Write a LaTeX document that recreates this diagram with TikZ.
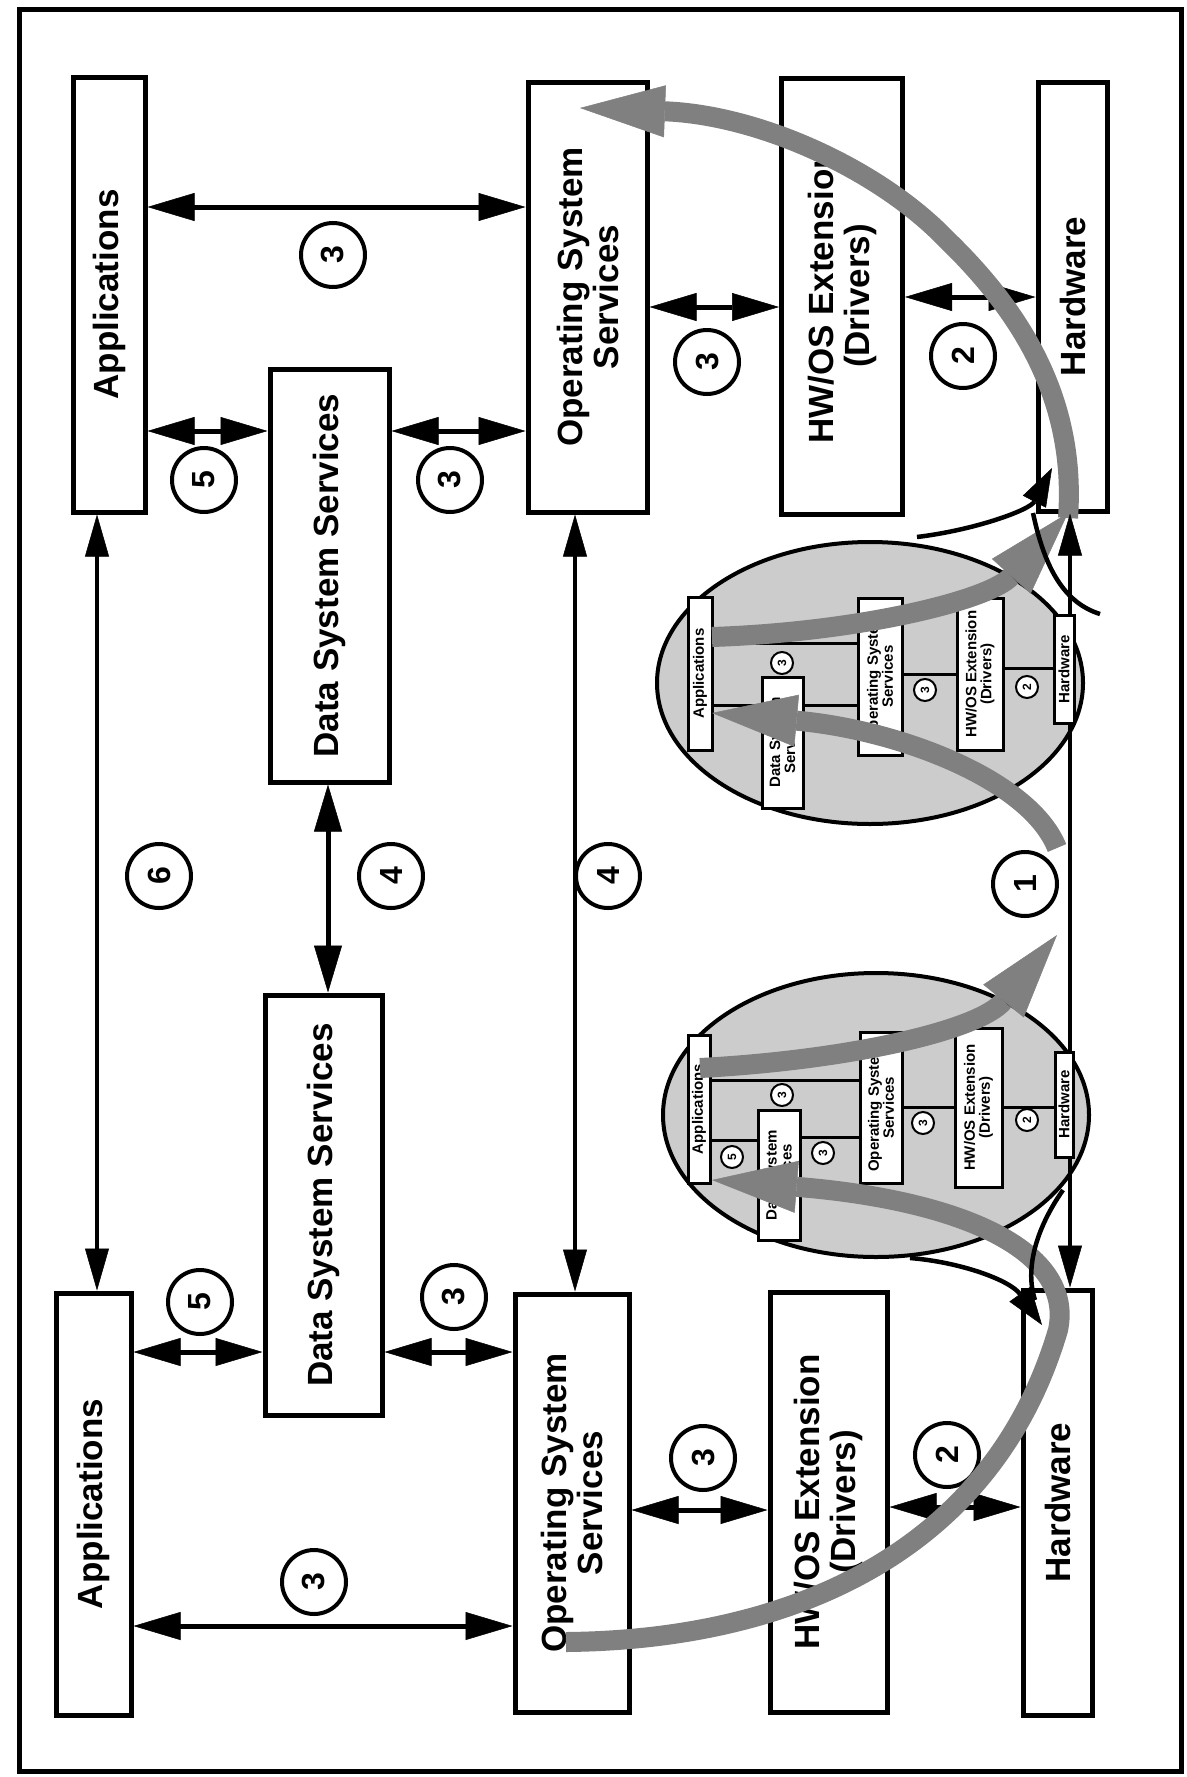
\documentclass[tikz,border=0pt]{standalone}
\usepackage{fontspec}
\setmainfont{Liberation Sans}
\usetikzlibrary{arrows.meta}
\begin{document}
\begin{tikzpicture}[x=1pt,y=-1pt,
  box/.style={draw,line width=5pt,fill=white,inner sep=0pt},
  lbl/.style={rotate=90,align=center,inner sep=0pt,font=\fontsize{35}{36}\selectfont\bfseries},
  num/.style={circle,draw,line width=4pt,minimum size=64pt,inner sep=0pt,fill=white,rotate=90,font=\fontsize{32}{32}\selectfont\bfseries},
  conn/.style={line width=5pt,{Triangle[length=47pt,width=28pt,line width=0.5pt]}-{Triangle[length=47pt,width=28pt,line width=0.5pt]}},
  vconn/.style={line width=3.5pt,{Triangle[length=42pt,width=24pt,line width=0.5pt]}-{Triangle[length=42pt,width=24pt,line width=0.5pt]}},
  mbox/.style={draw,line width=3pt,fill=white,inner sep=0pt},
  mlbl/.style={rotate=90,align=center,inner sep=0pt,font=\fontsize{15}{15}\selectfont\bfseries},
  mnum/.style={circle,draw,line width=2pt,minimum size=22pt,inner sep=0pt,fill=white,rotate=90,font=\fontsize{12}{12}\selectfont\bfseries},
  mline/.style={line width=3pt},
  zone/.style={draw,line width=4pt,fill=black!20},
  flow/.style={line width=20pt,draw=black!50,-{Triangle[length=85pt,width=52pt,line width=0.5pt]}},
  callout/.style={line width=4.5pt,-{Triangle[length=38pt,width=26pt,line width=0.5pt]}},
  curve/.style={line width=4.5pt},
]
\useasboundingbox (0,0) rectangle (1186,1777);
\draw[line width=5pt] (19,10) rectangle (1181,1771);

% ---------- top system ----------
\node[box,minimum width=72pt,minimum height=435pt] (appT) at (109,294.5) {};
\node[lbl] (appTl) at (appT) {Applications};
\node[box,minimum width=119pt,minimum height=430pt] (osT) at (587.5,297) {};
\node[lbl] (osTl) at (osT) {Operating System\\Services};
\node[box,minimum width=121pt,minimum height=436pt] (hwosT) at (842,296) {};
\node[lbl] (hwosTl) at (hwosT) {HW/OS Extension\\(Drivers)};
\node[box,minimum width=69pt,minimum height=429pt] (hwT) at (1072.5,296.5) {};
\node[lbl] (hwTl) at (hwT) {Hardware};
\node[box,minimum width=119pt,minimum height=413pt] (dssT) at (329.5,575.5) {};
\node[lbl] (dssTl) at (dssT) {Data System Services};

% ---------- bottom system ----------
\node[box,minimum width=75pt,minimum height=422pt] (appB) at (93.5,1504) {};
\node[lbl] (appBl) at (appB) {Applications};
\node[box,minimum width=117pt,minimum height=420pt] (dssB) at (323.5,1205) {};
\node[lbl] (dssBl) at (dssB) {Data System Services};
\node[box,minimum width=114pt,minimum height=418pt] (osB) at (572,1503) {};
\node[lbl] (osBl) at (osB) {Operating System\\Services};
\node[box,minimum width=117pt,minimum height=420pt] (hwosB) at (828.5,1502) {};
\node[lbl] (hwosBl) at (hwosB) {HW/OS Extension\\(Drivers)};
\node[box,minimum width=69pt,minimum height=425pt] (hwB) at (1057.5,1502.5) {};
\node[lbl] (hwBl) at (hwB) {Hardware};

% ---------- connectors ----------
\draw[conn] (appT.east |- 0,207) -- (osT.west |- 0,207);
\draw[conn] (appT.east |- 0,431) -- (dssT.west |- 0,431);
\draw[conn] (dssT.east |- 0,431) -- (osT.west |- 0,431);
\draw[conn] (osT.east |- 0,307) -- (hwosT.west |- 0,307);
\draw[conn] (hwosT.east |- 0,297) -- (hwT.west |- 0,297);

\draw[conn] (appB.east |- 0,1626) -- (osB.west |- 0,1626);
\draw[conn] (appB.east |- 0,1352) -- (dssB.west |- 0,1352);
\draw[conn] (dssB.east |- 0,1352) -- (osB.west |- 0,1352);
\draw[conn] (osB.east |- 0,1510) -- (hwosB.west |- 0,1510);
\draw[conn] (hwosB.east |- 0,1507) -- (hwB.west |- 0,1507);

\draw[vconn] (appT.south -| 97,0) -- (appB.north -| 97,0);
\draw[conn] (dssT.south -| 328,0) -- (dssB.north -| 328,0);
\draw[vconn] (osT.south -| 575,0) -- (osB.north -| 575,0);

\node[num] (n1) at (333,255) {3};
\node[num] (n2) at (204,480) {5};
\node[num] (n3) at (450,480) {3};
\node[num] (n4) at (707,362) {3};
\node[num] (n5) at (963,356) {2};
\node[num] (n6) at (314,1582) {3};
\node[num] (n7) at (200,1302) {5};
\node[num] (n8) at (454,1297) {3};
\node[num] (n9) at (703,1458) {3};
\node[num] (n10) at (947,1455) {2};
\node[num] (n11) at (159,876) {6};
\node[num] (n12) at (391,876) {4};
\node[num] (n13) at (608,876) {4};
\node[num] (n14) at (1025,884) {1};

% ---------- magnified views ----------
\draw[zone] (870,683) ellipse [x radius=213, y radius=141];
\draw[zone] (876,1115) ellipse [x radius=213, y radius=142];

% top view
\node[mbox,minimum width=24pt,minimum height=153pt] (tApp) at (700,673.5) {};
\node[mlbl] at (tApp) {Applications};
\node[mbox,minimum width=41pt,minimum height=131pt] (tDss) at (782.5,742.5) {};
\node[mlbl] at (tDss) {Data System\\Services};
\node[mbox,minimum width=44pt,minimum height=157pt] (tOs) at (880,676.5) {};
\node[mlbl] at (tOs) {Operating System\\Services};
\node[mbox,minimum width=46pt,minimum height=152pt] (tHwos) at (980,674) {};
\node[mlbl] at (tHwos) {HW/OS Extension\\(Drivers)};
\draw[mline] (tApp.east |- 0,643) -- (tOs.west |- 0,643);
\draw[mline] (tApp.east |- 0,705) -- (tDss.west |- 0,705);
\draw[mline] (tDss.east |- 0,705) -- (tOs.west |- 0,705);
\draw[mline] (tOs.east |- 0,674) -- (tHwos.west |- 0,674);
\draw[mline] (tHwos.east |- 0,668) -- (1055,668);
\node[mnum] (tn1) at (782,663) {3};
\node[mnum] (tn4) at (925,690) {3};
\node[mnum] (tn5) at (1027,687) {2};

% bottom view
\node[mbox,minimum width=22pt,minimum height=148pt] (bApp) at (699,1109) {};
\node[mlbl] at (bApp) {Applications};
\node[mbox,minimum width=42pt,minimum height=130pt] (bDss) at (779,1175) {};
\node[mlbl] at (bDss) {Data System\\Services};
\node[mbox,minimum width=42pt,minimum height=151pt] (bOs) at (881,1107.5) {};
\node[mlbl] at (bOs) {Operating System\\Services};
\node[mbox,minimum width=47pt,minimum height=159pt] (bHwos) at (978.5,1107.5) {};
\node[mlbl] at (bHwos) {HW/OS Extension\\(Drivers)};
\draw[mline] (bApp.east |- 0,1080) -- (bOs.west |- 0,1080);
\draw[mline] (bApp.east |- 0,1140) -- (bDss.west |- 0,1140);
\draw[mline] (bDss.east |- 0,1137) -- (bOs.west |- 0,1137);
\draw[mline] (bOs.east |- 0,1107) -- (bHwos.west |- 0,1107);
\draw[mline] (bHwos.east |- 0,1107) -- (1055,1107);
\node[mnum] (bn1) at (782,1095) {3};
\node[mnum] (bn2) at (732,1157) {5};
\node[mnum] (bn3) at (823,1153) {3};
\node[mnum] (bn4) at (923,1123) {3};
\node[mnum] (bn5) at (1027,1120) {2};

% ---------- data flow ----------
\draw[flow] (566,1642) .. controls (780,1640) and (990,1560) .. (1058,1330) .. controls (1075,1250) and (960,1200) .. (712,1180);
\draw[flow] (700,1068) .. controls (850,1060) and (980,1030) .. (1057,935);
\draw[flow] (1057,848) .. controls (1030,780) and (900,730) .. (712,713);
\draw[flow] (712,637) .. controls (860,632) and (990,600) .. (1068,513);
\draw[flow] (1068,518) .. controls (1075,420) and (1040,330) .. (947,240) .. controls (880,170) and (760,115) .. (580,108);

\draw[vconn] (hwT.south -| 1070,0) -- (hwB.north -| 1070,0);

\node[mbox,minimum width=20pt,minimum height=108pt] (tHw) at (1064,669) {};
\node[mlbl] at (tHw) {Hardware};
\node[mbox,minimum width=18pt,minimum height=105pt] (bHw) at (1064,1104.5) {};
\node[mlbl] at (bHw) {Hardware};

\draw[callout] (917,537) .. controls (975,530) and (1030,510) .. (1052,468);
\draw[curve] (1033,513) .. controls (1045,570) and (1065,603) .. (1100,614);
\draw[callout] (910,1258) .. controls (960,1262) and (1010,1280) .. (1042,1325);
\draw[curve] (1063,1190) .. controls (1035,1230) and (1025,1270) .. (1035,1300);
\end{tikzpicture}
\end{document}
